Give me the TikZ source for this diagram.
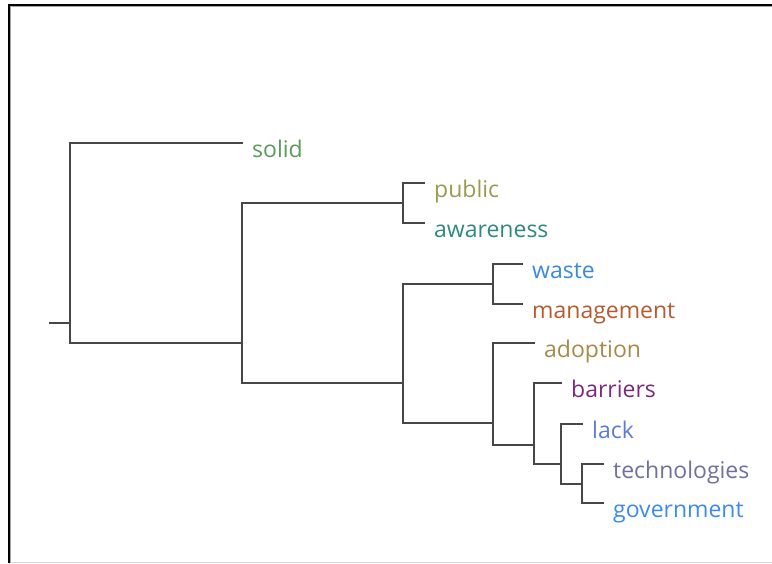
\documentclass[tikz,border=0pt]{standalone}
\usepackage{fontspec}
\setmainfont{Open Sans}
\definecolor{cSolid}{HTML}{5A9A5A}
\definecolor{cPublic}{HTML}{9A9A50}
\definecolor{cAware}{HTML}{2E8A80}
\definecolor{cWaste}{HTML}{3A88E0}
\definecolor{cMgmt}{HTML}{B85A30}
\definecolor{cAdopt}{HTML}{A88A48}
\definecolor{cBarr}{HTML}{7A2A7A}
\definecolor{cLack}{HTML}{5A7AD8}
\definecolor{cTech}{HTML}{7070A0}
\definecolor{cGov}{HTML}{3A8AF0}
\definecolor{cLine}{HTML}{474747}
\begin{document}
\begin{tikzpicture}[x=1pt,y=-1pt,
  branch/.style={draw=cLine,line width=2pt,line cap=rect},
  leaf/.style={anchor=base west,inner sep=0pt,font=\fontsize{23}{27}\selectfont}]
\useasboundingbox (0,0) rectangle (772,563);
% frame
\draw[line width=2pt,black] (9,563) -- (9,5) -- (772,5);
\draw[line width=1pt,gray!70] (10.5,563) -- (10.5,6.5) -- (772,6.5);
\draw[line width=1pt,black!15] (11,562) -- (772,562);
% internal nodes
\coordinate (stub) at (50,323);
\coordinate (root) at (70,323);
\coordinate (n1) at (242,343);
\coordinate (n2) at (403,203);
\coordinate (n3) at (403,383);
\coordinate (n4) at (493,284);
\coordinate (n5) at (493,423);
\coordinate (n6) at (534,445);
\coordinate (n7) at (561,464);
\coordinate (n8) at (582,484);
% leaf tips
\coordinate (tSolid) at (242,143);
\coordinate (tPublic) at (424,183);
\coordinate (tAware) at (424,223);
\coordinate (tWaste) at (522,264);
\coordinate (tMgmt) at (522,304);
\coordinate (tAdopt) at (534,343);
\coordinate (tBarr) at (561,383);
\coordinate (tLack) at (582,424);
\coordinate (tTech) at (603,464);
\coordinate (tGov) at (603,503);
% labels
\node[leaf,text=cSolid]  (lSolid)  at ([shift={(10,14.5)}]tSolid)  {solid};
\node[leaf,text=cPublic] (lPublic) at ([shift={(10,14.5)}]tPublic) {public};
\node[leaf,text=cAware]  (lAware)  at ([shift={(10,14.5)}]tAware)  {awareness};
\node[leaf,text=cWaste]  (lWaste)  at ([shift={(10,14.5)}]tWaste)  {waste};
\node[leaf,text=cMgmt]   (lMgmt)   at ([shift={(10,14.5)}]tMgmt)   {management};
\node[leaf,text=cAdopt]  (lAdopt)  at ([shift={(10,14.5)}]tAdopt)  {adoption};
\node[leaf,text=cBarr]   (lBarr)   at ([shift={(10,14.5)}]tBarr)   {barriers};
\node[leaf,text=cLack]   (lLack)   at ([shift={(10,14.5)}]tLack)   {lack};
\node[leaf,text=cTech]   (lTech)   at ([shift={(10,14.5)}]tTech)   {technologies};
\node[leaf,text=cGov]    (lGov)    at ([shift={(10,14.5)}]tGov)    {government};
% branches
\draw[branch] (stub) -- (root);
\draw[branch] (root) |- (tSolid);
\draw[branch] (root) |- (n1);
\draw[branch] (n1) |- (n2);
\draw[branch] (n1) |- (n3);
\draw[branch] (n2) |- (tPublic);
\draw[branch] (n2) |- (tAware);
\draw[branch] (n3) |- (n4);
\draw[branch] (n3) |- (n5);
\draw[branch] (n4) |- (tWaste);
\draw[branch] (n4) |- (tMgmt);
\draw[branch] (n5) |- (tAdopt);
\draw[branch] (n5) |- (n6);
\draw[branch] (n6) |- (tBarr);
\draw[branch] (n6) |- (n7);
\draw[branch] (n7) |- (tLack);
\draw[branch] (n7) |- (n8);
\draw[branch] (n8) |- (tTech);
\draw[branch] (n8) |- (tGov);
\end{tikzpicture}
\end{document}
